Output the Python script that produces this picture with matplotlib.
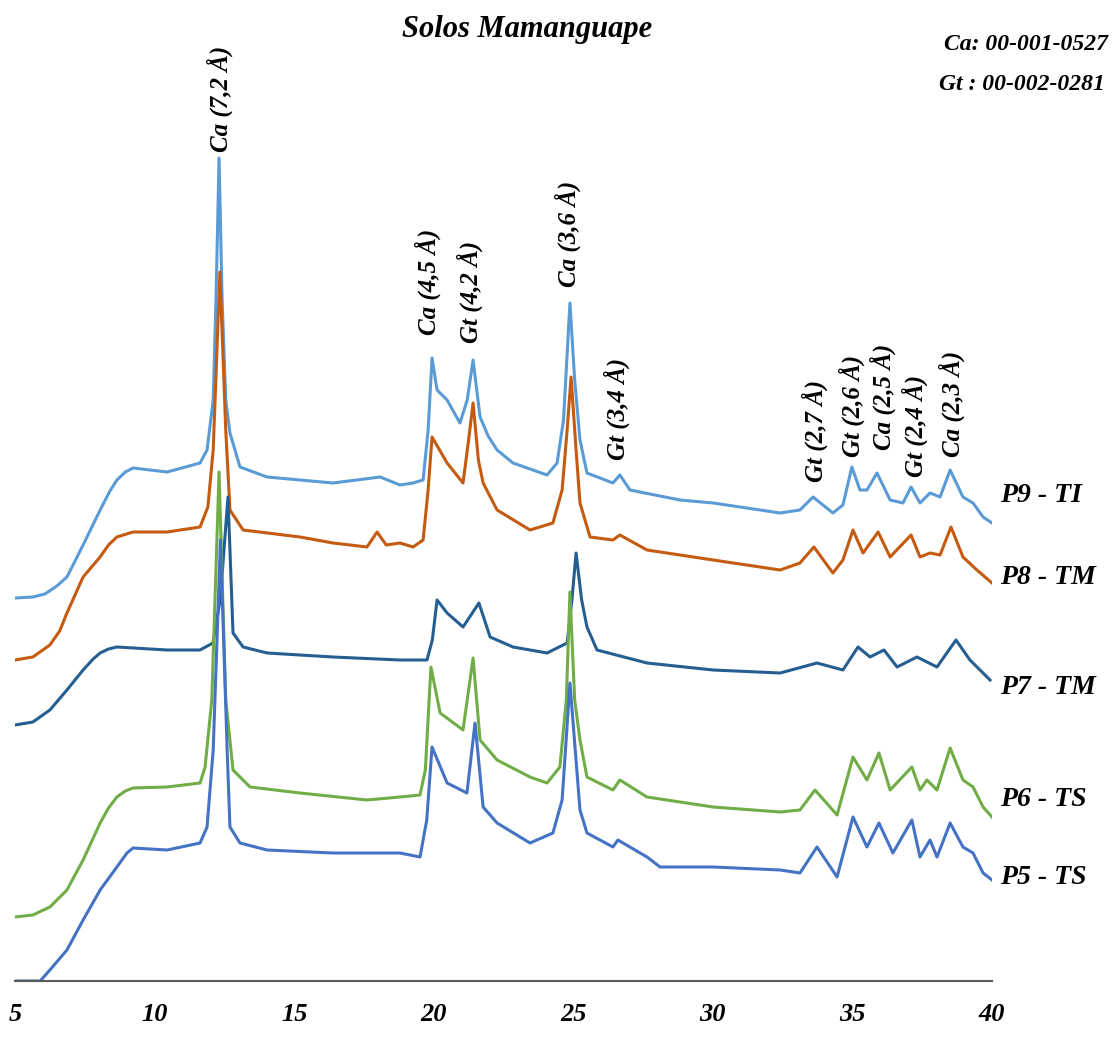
import matplotlib
matplotlib.use('Agg')
import matplotlib.pyplot as plt

# 2-theta positions and intensities (arbitrary units, offset already included)
p9_x = [5.0, 5.64, 6.07, 6.5, 6.86, 7.44, 8.05, 8.4, 8.65, 8.95, 9.23, 10.45, 11.63, 11.88, 12.1,
        12.2, 12.31, 12.42, 12.55, 12.7, 13.06, 14.03, 16.39, 18.08, 18.79, 19.26, 19.62, 19.8,
        19.94, 20.12, 20.48, 20.94, 21.2, 21.41, 21.66, 21.95, 22.27, 22.84, 24.06, 24.42, 24.65,
        24.88, 25.05, 25.24, 25.49, 26.42, 26.67, 27.03, 28.82, 30.01, 32.41, 33.12, 33.59, 34.30,
        34.66, 34.98, 35.27, 35.52, 35.88, 36.35, 36.81, 37.10, 37.42, 37.78, 38.14, 38.50, 38.96,
        39.32, 39.68, 40.0]
p9_y = [383, 384, 387, 395, 404, 436, 471, 490, 501, 509, 513, 509, 518, 531, 581,
        681, 823, 681, 581, 548, 514, 504, 498, 504, 496, 498, 501, 551,
        623, 591, 581, 558, 581, 621, 564, 545, 531, 518, 506, 518, 561,
        678, 601, 541, 508, 498, 506, 491, 481, 478, 468, 471, 484, 468,
        476, 514, 491, 491, 508, 481, 478, 494, 478, 488, 484, 511, 484,
        478, 464, 458]

p8_x = [5.0, 5.64, 6.25, 6.6, 6.86, 7.44, 8.05, 8.35, 8.65, 9.23, 10.45, 11.63, 11.91, 12.1, 12.34,
        12.55, 12.7, 13.17, 15.21, 16.39, 17.61, 17.97, 18.3, 18.79, 19.26, 19.62, 19.8, 19.94,
        20.48, 21.05, 21.25, 21.41, 21.6, 21.77, 22.27, 23.45, 24.27, 24.6, 24.78, 24.92, 25.1,
        25.24, 25.60, 26.42, 26.67, 27.64, 30.01, 32.41, 33.12, 33.62, 34.30, 34.66, 35.02, 35.38,
        35.92, 36.35, 37.10, 37.42, 37.78, 38.14, 38.53, 38.96, 39.46, 40.0]
p8_y = [321, 324, 336, 350, 368, 404, 424, 436, 444, 449, 449, 454, 474, 531, 709,
        551, 471, 451, 444, 438, 434, 449, 436, 438, 434, 441, 491, 544,
        518, 498, 541, 578, 521, 498, 471, 451, 458, 491, 551, 604, 531,
        478, 444, 441, 446, 431, 421, 411, 418, 434, 408, 421, 451, 428,
        449, 424, 446, 424, 428, 426, 454, 424, 411, 398]

p7_x = [5.0, 5.64, 6.25, 6.86, 7.44, 7.8, 8.05, 8.35, 8.65, 10.45, 11.63, 12.09, 12.35, 12.63, 12.81,
        13.17, 14.03, 16.39, 18.79, 19.76, 19.95, 20.12, 20.48, 21.05, 21.62, 22.02, 22.84, 24.06,
        24.78, 24.95, 25.10, 25.3, 25.49, 25.85, 27.64, 30.01, 32.41, 33.73, 34.66, 35.20, 35.63,
        36.13, 36.60, 37.31, 38.03, 38.71, 39.21, 39.93]
p7_y = [256, 259, 271, 291, 311, 322, 328, 332, 334, 331, 331, 338, 381, 484, 348,
        334, 328, 324, 321, 321, 341, 381, 368, 354, 378, 344, 334, 328,
        338, 381, 428, 381, 354, 331, 318, 311, 308, 318, 311, 334, 324,
        331, 314, 324, 314, 341, 321, 301]

p6_x = [5.0, 5.64, 6.25, 6.86, 7.44, 8.05, 8.35, 8.65, 8.95, 9.23, 10.45, 11.63, 11.81, 12.05, 12.31,
        12.55, 12.81, 13.42, 15.21, 17.61, 18.79, 19.51, 19.7, 19.90, 20.23, 21.05, 21.41, 21.66,
        22.27, 23.45, 24.06, 24.52, 24.75, 24.88, 25.05, 25.24, 25.49, 26.42, 26.67, 27.64, 30.01,
        32.41, 33.12, 33.66, 34.45, 35.02, 35.52, 35.95, 36.35, 37.13, 37.42, 37.67, 38.03, 38.50,
        38.96, 39.32, 39.68, 40.0]
p6_y = [64, 66, 74, 91, 121, 158, 173, 184, 190, 193, 194, 198, 214, 281, 509,
        281, 211, 194, 188, 181, 184, 186, 211, 314, 268, 251, 323, 241,
        221, 204, 198, 214, 281, 389, 281, 241, 204, 191, 201, 184, 174,
        169, 171, 191, 166, 224, 201, 228, 191, 214, 191, 201, 191, 233,
        201, 194, 174, 164]

p5_x = [5.0, 5.90, 6.25, 6.86, 7.44, 8.05, 8.65, 9.01, 9.23, 10.45, 11.63, 11.88, 12.1, 12.36,
        12.6, 12.70, 13.06, 14.03, 16.39, 18.79, 19.51, 19.75, 19.94, 20.48, 21.19, 21.48, 21.77,
        22.27, 23.45, 24.27, 24.60, 24.88, 25.24, 25.49, 26.42, 26.60, 27.64, 28.11, 30.01, 32.41,
        33.12, 33.73, 34.45, 35.02, 35.52, 35.95, 36.45, 37.13, 37.42, 37.78, 38.03, 38.50, 38.96,
        39.32, 39.68, 40.0]
p5_y = [0, 0, 11, 31, 61, 91, 114, 128, 133, 131, 138, 154, 231, 441,
        231, 154, 138, 131, 128, 128, 124, 161, 234, 198, 188, 258, 174,
        158, 138, 148, 181, 298, 171, 148, 134, 141, 124, 114, 114, 111,
        108, 134, 104, 164, 134, 158, 128, 161, 124, 141, 124, 158, 134,
        128, 108, 101]

series_names = ['P9 - TI', 'P8 - TM', 'P7 - TM', 'P6 - TS', 'P5 - TS']
series_colors = ['#5B9BD5', '#C55A11', '#255E91', '#70AD47', '#4472C4']
name_y = [486, 403, 293, 181, 103]

peak_labels = ['Ca (7,2 Å)', 'Ca (4,5 Å)', 'Gt (4,2 Å)', 'Ca (3,6 Å)', 'Gt (3,4 Å)',
               'Gt (2,7 Å)', 'Gt (2,6 Å)', 'Ca (2,5 Å)', 'Gt (2,4 Å)', 'Ca (2,3 Å)']
peak_x = [12.34, 19.80, 21.30, 24.81, 26.57, 33.66, 34.98, 36.10, 37.24, 38.57]
peak_label_y = [829, 646, 638, 694, 521, 499, 524, 531, 504, 524]

font = dict(family='Liberation Serif', weight='bold', style='italic')

fig = plt.figure(figsize=(11.17, 10.37), dpi=100)
ax = fig.add_axes([15 / 1117, 56 / 1037, 977 / 1117, 981 / 1037])

all_x = [p9_x, p8_x, p7_x, p6_x, p5_x]
all_y = [p9_y, p8_y, p7_y, p6_y, p5_y]
for xs, ys, c in zip(all_x, all_y, series_colors):
    ax.plot(xs, ys, color=c, lw=2.2, solid_joinstyle='round')

for name, yy in zip(series_names, name_y):
    ax.text(40.29, yy, name, fontsize=20, va='center', ha='left', clip_on=False, **font)

for lab, px, py in zip(peak_labels, peak_x, peak_label_y):
    ax.text(px, py, lab, rotation=90, fontsize=18, ha='center', va='bottom', **font)

ax.text(23.34, 951, 'Solos Mamanguape', fontsize=22, ha='center', va='center', **font)
ax.text(44.16, 936, 'Ca: 00-001-0527', fontsize=17, ha='right', va='center', clip_on=False,
        family='Liberation Serif', style='italic', weight='semibold')
ax.text(44.05, 896, 'Gt : 00-002-0281', fontsize=17, ha='right', va='center', clip_on=False,
        family='Liberation Serif', style='italic', weight='semibold')

ax.set_xlim(5, 40)
ax.set_ylim(0, 981)
ax.set_xticks([5, 10, 15, 20, 25, 30, 35, 40])
ax.set_yticks([])
ax.tick_params(axis='x', length=0, pad=16)
for t in ax.get_xticklabels():
    t.set_fontfamily('Liberation Serif')
    t.set_fontweight('bold')
    t.set_fontstyle('italic')
    t.set_fontsize(19)
for s in ['top', 'right', 'left']:
    ax.spines[s].set_visible(False)
ax.spines['bottom'].set_color('#595959')
ax.spines['bottom'].set_linewidth(1.5)

fig.savefig('out.png', dpi=100)
